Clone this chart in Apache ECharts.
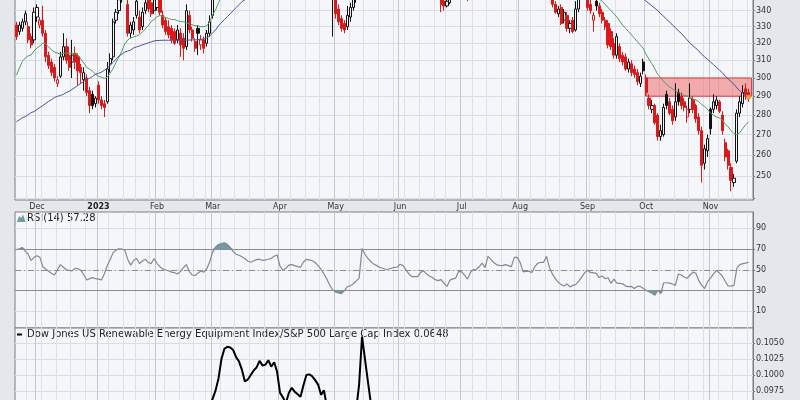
<!DOCTYPE html>
<html><head><meta charset="utf-8">
<script src="https://cdn.jsdelivr.net/npm/echarts@6/dist/echarts.min.js"></script>
<style>html,body{margin:0;padding:0;background:#e4e7eb}#c{width:800px;height:400px}</style>
</head><body><div id="c"></div>
<script>
// ---------- data ----------
const firstDay = '2022-11-21', lastDay = '2023-11-21';
const holidays = ['2022-11-24','2022-12-26','2023-01-02','2023-01-16','2023-02-20','2023-04-07','2023-05-29','2023-06-19','2023-07-04','2023-09-04'];
const monthNames = ['2023','Feb','Mar','Apr','May','Jun','Jul','Aug','Sep','Oct','Nov','Dec'];
// [open, close, low, high]
const candles = [
[331,324,322,333],[327,331,325,333],[329,333,327,335],[333,338,331,340],[330,322,320,333],[324,319,317,326],[322,339,320,342],
[336,342,333,344],[331,334,329,336],[334,326,324,343],[326,312,309,328],[313,307,305,315],[309,303,301,311],[306,300,298,308],[297,299,295,301],[301,312,300,315],[312,318,310,326],[318,310,308,323],[313,306,304,318],[309,313,300,322],[314,309,305,318],[312,304,296,314],[306,303,297,308],[299,303,293,306],[300,292,290,302],[293,285,281,295],[291,285,283,293],[286,289,284,290],
[296,288,286,298],[288,285,283,290],[286,284,279,288],[287,305,286,309],[308,311,303,314],[312,333,310,335],[334,339,332,341],[340,347,338,350],[347,356,345,360],[356,360,352,364],[344,326,324,350],[326,331,323,333],[328,333,325,336],[337,346,335,350],[336,328,326,340],[330,339,328,342],[340,345,338,349],[350,341,339,354],[345,338,336,350],[340,347,338,352],
[342,352,340,356],[352,339,337,355],[337,331,329,340],[334,327,325,336],[330,325,323,334],[329,322,320,331],[327,320,319,329],[322,328,320,331],[326,319,312,329],[323,317,310,326],[318,340,316,344],[337,328,326,340],[328,323,321,330],[321,317,315,323],[329,326,313,331],[319,322,316,325],[322,317,314,324],[320,326,318,328],[326,333,324,337],
[337,350,335,353],[350,356,348,359],[357,364,355,367],[364,371,362,374],[371,378,369,381],[378,383,375,386],[382,380,376,385],[379,375,372,381],[376,372,369,378],[371,374,368,377],[374,370,367,376],[370,366,363,372],[366,363,360,368],[363,362,358,366],[362,366,360,368],[366,369,364,371],[369,370,366,373],[370,368,365,372],[368,369,365,371],[369,371,367,374],[371,373,369,376],[373,377,371,379],[377,380,375,383],
[379,372,369,381],[372,366,363,374],[366,369,364,371],[369,373,367,375],[373,374,370,377],[374,372,369,376],[372,371,368,374],[371,370,367,373],[370,377,369,379],[377,381,375,383],[381,380,377,383],[380,379,376,382],[379,377,374,381],[377,372,369,378],[372,367,364,373],[367,361,358,368],[361,355,352,362],[355,350,348,357],[356,350,324,360],
[348,338,335,350],[341,333,331,344],[335,329,327,337],[332,328,326,334],[330,337,328,343],[336,342,333,345],[342,348,340,351],[348,353,345,356],[353,356,350,358],[362,392,360,396],[390,388,384,393],[388,384,381,390],[384,381,378,386],[381,378,375,383],[378,376,373,380],[376,374,371,378],[374,372,369,376],[372,371,368,374],[371,371,368,374],[371,372,369,375],[372,373,370,376],[373,373,370,376],
[374,378,372,380],[378,376,373,380],[376,372,369,378],[372,368,365,373],[368,365,362,369],[365,365,362,368],[365,365,362,368],[365,368,363,370],[368,370,366,372],[370,367,364,371],[367,365,362,368],[365,363,360,366],[363,360,357,364],[360,355,353,361],[352,344,339,354],[346,343,340,349],[343,346,342,350],[345,350,344,353],[350,352,348,355],[352,353,350,356],[354,362,353,364],
[362,360,357,364],[360,356,353,361],[355,350,346,356],[351,357,350,359],[357,360,355,362],[360,361,358,363],[361,364,359,366],[364,368,362,370],[368,363,361,369],[364,376,363,378],[376,373,370,378],[373,370,367,374],[370,368,365,371],[368,368,365,370],[368,368,365,371],[368,369,366,371],[369,368,365,370],[368,366,363,369],[367,378,366,380],[378,378,375,381],
[378,373,370,379],[373,362,359,374],[362,363,359,365],[363,362,359,365],[362,361,358,364],[361,366,359,368],[366,369,364,371],[369,370,366,372],[370,370,367,373],[370,378,369,380],[376,358,356,377],[352,344,342,355],[344,339,338,346],[338,341,336,343],[342,332,331,344],[334,339,332,341],[337,329,327,339],[329,332,326,334],[334,327,326,336],[328,341,327,346],[341,348,339,352],[349,355,347,358],[356,352,349,360],
[352,342,340,355],[344,340,338,347],[334,337,327,339],[346,343,340,349],[343,338,336,345],[339,334,332,341],[334,330,328,336],[332,319,317,334],[327,318,316,329],[320,313,311,323],[313,324,311,326],[318,311,309,320],[313,309,307,315],[312,305,304,314],[305,309,303,311],[308,303,301,310],[305,302,300,307],[303,298,296,305],[297,301,295,303],[309,304,302,311],
[300,292,290,302],[289,285,283,291],[283,285,281,288],[285,276,275,286],[280,269,267,281],[269,272,267,275],[270,284,269,286],[291,285,283,293],[287,281,280,289],[283,277,275,285],[279,287,277,297],[292,287,285,294],[290,285,283,292],[287,284,282,289],[279,283,276,285],[283,289,281,297],[288,283,281,290],[285,278,276,286],[279,272,270,281],[272,255,247,274],[256,263,253,265],[262,268,259,270],
[283,273,270,284],[283,287,281,291],[285,288,283,290],[287,282,281,288],[280,272,270,282],[266,259,257,268],[262,255,253,263],[254,248,243,256],[247,249,245,251],[257,281,256,283],[281,287,279,290],[286,292,284,296],[294,291,288,297],[292,289.5,287,294]
];
const sma20 = [301.5,305.6,309.3,311.4,312.6,313.1,315.4,317.2,318.4,320.2,319.6,317.8,316.0,314.8,314.2,313.6,314.2,314.2,314.2,314.2,313.6,313.1,310.7,308.4,306.0,304.9,303.7,302.1,300.9,300.4,299.8,300.4,302.6,305.4,308.8,311.8,315.4,319.6,322.0,323.2,323.8,324.4,325.0,326.8,328.7,330.6,333.1,334.4,336.2,336.9,336.2,335.6,335.0,334.4,334.4,333.7,333.1,333.1,332.5,331.8,331.2,330.6,330.6,330.0,330.0,330.6,333.1,337.5,340.6,345.1,
349,353,357,360,362,364,366,367,368,369,369.5,370,370.5,371,371.5,372,372,372,372.5,373,
373,373,372.5,372,371.5,371,371,370.5,370.5,371,371.5,372,372,371.5,371,370,369,367.5,366,
364,362,360,358.5,357,356,355.5,355.5,356,357.5,358.5,359.5,360.5,361.5,362.5,363.5,364.5,365.5,366.5,367.5,368.5,369.5,
370,370.5,371,371,370.5,370,369.5,369,368.5,368,367.5,367,366,365,364,363,362,361,360.5,360,360,
359.5,359,358.5,358,358,358.5,359,359.5,360,361,362,363,364,365,365.5,366,366.5,367,367.5,368,
368,368,367.5,367,366.5,366,366,366,366,366,365.5,364.5,363.5,362.5,361.5,360.5,359.5,358.5,357.5,356.5,355.5,354.5,353.5,352.5,351.5,
350,348.5,347.5,346,344,342,340,338,336,333.5,331,329,327,325,323,321,319,317,313.5,310.5,308,305,302,300,298,296.5,295,294,293,292,291,290.5,290,289,288.5,288,287,285.5,284.5,283,281,280,279,278.5,277.5,275.5,274,272,270.5,270,271,273,275,276.5];
const sma50 = [276.6,277.6,278.6,279.2,280.2,281.3,281.8,282.9,284.0,285.0,286.1,287.2,288.2,289.3,289.9,290.4,291.0,292.0,292.6,293.7,294.8,295.9,297.0,298.1,299.3,299.8,300.9,302.1,302.6,303.2,304.3,305.4,307.2,308.8,310.7,312.5,313.6,314.8,315.4,316.0,317.2,317.8,318.4,319.0,319.6,320.2,320.8,321.4,
321.6,321.7,321.8,321.8,321.8,321.8,321.8,321.8,321.8,321.8,321.8,321.9,322.0,322.0,322.1,322.3,
322.6,323.2,324.4,326.2,328.1,330.6,332.5,334.4,336.2,338.1,340.0,341.9,343.8,345.7,347.0,
348.5,350,351.5,353,354.5,356,357,358,359,360,361,
362,363,364,364.5,365,365.5,366,366.5,367,367.5,368,368.5,369,369,369,369,368.5,368,367.5,
367,366.5,366,365.5,365,364.5,364,363.5,363.5,363.5,363.5,364,364,364.5,365,365,365.5,366,366.5,367,367,367.5,
367.5,368,368,368,368,368,367.5,367.5,367,367,366.5,366.5,366,366,365.5,365,364.5,364,364,363.5,363.5,
363.5,363,363,363,363,363,363,363.5,363.5,364,364,364,364.5,364.5,364.5,365,365,365,365,365.5,
365.5,365.5,365,365,364.5,364.5,364,364,364,364,363.5,363,362.5,362,361.5,361,360.5,360,359.5,359,358.5,358,357.5,
357,356.5,356,355.5,355,354.5,354,353.5,353,352.5,352,351.5,351,350.5,350,349.5,349,348.5,348,
347.5,346,344.5,343,341.5,340,338,336.5,334.5,333,331,329.5,327.5,326,324,322,320,318.5,317,315.5,313.5,312,310.5,309,307.5,306,304.5,303,301,299.5,298,296.5,294.5,293,291.5,290,288.6];
const rsi14 = [69.5,70.3,71.5,68,65,59,62,63.5,62,53,
50.5,48.5,46.5,45,50,55,52.5,50,49.5,49,
51.5,51,49.5,45,40.2,41.5,42.5,41.5,41,40.2,
46,54,60,66.5,69,70.2,70,69,60,54.5,
59,61,56,58.5,60.2,57,56,60.8,56,53,
50.7,49.8,48.8,47.8,47.2,46,48.5,52,55,48.5,
45,44.5,47,48.8,47.8,51,58,67,72,74.3,
75.3,76,74.5,71.5,67.5,65,64,62.5,60.7,58.5,
57.3,58.7,59.8,60.2,59,59.5,60.2,61,63,64.3,
53.5,49.5,51.5,54.5,55,54,53,52.5,57.5,60,
59.5,58.7,57,54,50.5,46,41,35,30.5,28.5,
27.6,27,30,33.7,34.5,36.5,39,42,70.2,65,
61,58,55.5,54,52.5,51.5,50.5,50.5,51.5,52.3,
52.5,55.3,54,50,46,43.5,43.5,43.5,47.5,49,
46,44,42.5,40.5,39.5,40.5,37,34,40,41.2,
42,48.5,48,45,41,47.5,50.2,50.5,53,56.5,
52,63,60,57,54.8,54.2,54,55,54,53,
62,62,57,48,48.7,48.5,47.4,53,56.3,57.2,
57.2,63,52,46,41.5,38,35.7,34.4,36.5,33.5,
35,36,39,43,47,49.5,47.5,47,46.5,42.5,
44,41.5,42.3,37,41,37.2,37,36.5,34.3,33.8,
34,32,34,34,32.3,30,28.8,27.5,25.5,30.3,
27,37.5,37.5,37.2,36.3,35,46,45,43,41.8,
45,47.7,46.7,39.5,35,32,38.5,42,46,49.5,
47,44,39,34.5,34.3,35,51.5,55,56,56.5,
57.28];
const ratio = [0.0905,0.0910,0.0915,0.0918,0.0905,0.0898,0.0920,0.0925,0.0918,0.0910,0.0895,0.0888,0.0880,0.0872,0.0876,0.0890,0.0898,0.0889,0.0882,0.0886,0.0880,0.0874,0.0872,0.0875,0.0868,0.0860,0.0862,0.0866,
0.0858,0.0856,0.0852,0.0868,0.0872,0.0890,0.0895,0.0900,0.0906,0.0910,0.0885,0.0890,0.0893,0.0902,0.0892,0.0900,0.0905,0.0896,0.0890,0.0898,
0.0902,0.0890,0.0885,0.0882,0.0880,0.0878,0.0876,0.0884,0.0878,0.0875,0.0900,0.0892,0.0890,0.0888,0.0896,0.0900,0.0898,0.0915,
0.0950,0.0963,0.0976,0.0995,0.1025,0.1041,0.1044,0.1043,0.1039,0.1028,0.1021,0.1008,0.0990,0.0993,0.1000,0.1007,0.1012,0.1022,0.1015,0.1016,0.1023,0.1013,0.1020,0.1005,0.0972,0.0965,0.0956,0.0972,0.0980,0.0974,0.0970,0.0966,0.0984,0.1000,0.1001,0.0998,0.0992,0.0985,0.0969,0.0976,0.0950,0.0945,
0.0940,0.0935,0.0930,0.0926,0.0929,0.0935,0.0938,0.0942,0.0946,
0.0985,0.1060,0.1025,0.0990,0.0956,
0.0940,0.0932,0.0925,0.0920,0.0915,0.0912,0.0910,0.0905,0.0900,
0.0905,0.0898,0.0890,0.0885,0.0880,0.0878,0.0875,0.0872,0.0870,0.0865,0.0860,0.0855,0.0850,0.0845,0.0830,0.0825,0.0828,0.0832,0.0835,0.0836,0.0845,
0.0842,0.0838,0.0832,0.0838,0.0842,0.0842,0.0845,0.0850,0.0845,0.0858,0.0852,0.0846,0.0842,0.0840,0.0838,0.0836,0.0834,0.0830,0.0842,0.0840,
0.0832,0.0818,0.0818,0.0815,0.0812,0.0818,0.0822,0.0822,0.0821,0.0830,0.0808,0.0792,0.0786,0.0790,0.0778,0.0785,0.0775,0.0779,0.0772,0.0788,0.0795,0.0802,0.0798,
0.0786,0.0780,0.0776,0.0788,0.0782,0.0776,0.0770,0.0752,0.0752,0.0745,0.0760,0.0745,0.0742,0.0735,0.0742,0.0735,0.0732,0.0726,0.0730,0.0738,
0.0712,0.0700,0.0702,0.0690,0.0680,0.0685,0.0702,0.0698,0.0690,0.0682,0.0692,0.0688,0.0682,0.0680,0.0685,0.0690,0.0683,0.0675,0.0665,0.0640,0.0650,0.0655,
0.0672,0.0672,0.0672,0.0665,0.0652,0.0638,0.0630,0.0622,0.0625,0.0640,0.0642,0.0650,0.0648,0.0648];
const priceTicks = [240,250,260,270,280,290,300,310,320,330,340,350];
const priceLabels = [250,260,270,280,290,300,310,320,330,340];
const rsiTicks = [10,30,50,70,90];
const ratioTicks = [0.0975,0.1000,0.1025,0.1050];
const zone = {from:'2023-10-02', low:290, high:300};
const trend = {from:['2023-05-10',0.1062], to:['2023-11-20',0.0702]};
const rsiTitle = 'RSI(14) 57.28';
const ratioTitle = 'Dow Jones US Renewable Energy Equipment Index/S&P 500 Large Cap Index 0.0648';
const lastClose = 289.5;

// ---------- categories ----------
const dates = [];
(function(){
  const d = new Date(firstDay+'T00:00:00Z'), e = new Date(lastDay+'T00:00:00Z');
  while (d <= e) {
    const wd = d.getUTCDay(), s = d.toISOString().slice(0,10);
    if (wd !== 0 && wd !== 6 && holidays.indexOf(s) < 0) dates.push(s);
    d.setUTCDate(d.getUTCDate()+1);
  }
})();
const monthStart = dates.map((s,i)=> i>0 && s.slice(5,7)!==dates[i-1].slice(5,7));
const weekStart = dates.map((s,i)=> i>0 && new Date(s+'T00:00:00Z').getUTCDay() < new Date(dates[i-1]+'T00:00:00Z').getUTCDay());

// ---------- style ----------
const F = 'DejaVu Sans';
const PLOT_BG = '#f4f6f9';
const RED = '#d91a1a', BLK = '#111111';
const L = Math.log;

const candleItems = candles.map((c,i)=>{
  const o=c[0], cl=c[1], lo=c[2], hi=c[3];
  const prev = i>0 ? candles[i-1][1] : o;
  const col = cl >= prev ? BLK : RED;
  const fill = cl > o ? PLOT_BG : col;
  return {value:[L(o),L(cl),L(lo),L(hi)], itemStyle:{color:fill,color0:fill,borderColor:col,borderColor0:col,borderWidth:1}};
});

const G = [
  {left:15, width:738, top:-10, height:210},
  {left:15, width:738, top:212, height:116},
  {left:15, width:738, top:328, height:82}
];
const grids = G.map(g=>Object.assign({show:true, containLabel:false, outerBoundsMode:'none', backgroundColor:PLOT_BG, borderColor:'#7c7c7c', borderWidth:1}, g));

function xPair(gi, labels){
  return [
    {type:'category', gridIndex:gi, data:dates, axisLine:{show:false}, axisTick:{show:false}, axisLabel:{show:false},
     splitLine:{show:true, interval:(i)=>weekStart[i] && !monthStart[i], lineStyle:{color:'#dde1e7', width:1}}},
    {type:'category', gridIndex:gi, data:dates, position:'bottom', axisLine:{show:false}, axisTick:{show:false},
     axisLabel: labels ? {show:true, interval:(i)=>monthStart[i], margin:3, fontFamily:F, fontSize:8, color:'#333',
       formatter:(v)=>{ const m = +v.slice(5,7); return m===1 ? '{b|'+v.slice(0,4)+'}' : monthNames[m-1]; },
       rich:{b:{fontFamily:F, fontSize:8, fontWeight:'bold', color:'#222'}}} : {show:false},
     splitLine:{show:true, interval:(i)=>monthStart[i], lineStyle:{color:'#c3c8cf', width:1}}}
  ];
}
const xAxes = [].concat(xPair(0,true), xPair(1,false), xPair(2,false));

const yLabelBase = {fontFamily:F, fontSize:8, color:'#333', margin:3};
const yAxes = [
  {type:'value', gridIndex:0, position:'right', min:L(239.1), max:L(353.3),
   axisLine:{show:true, lineStyle:{color:'#7c7c7c'}},
   axisTick:{show:true, length:2, customValues:priceTicks.map(L), lineStyle:{color:'#7c7c7c'}},
   axisLabel:Object.assign({customValues:priceLabels.map(L), formatter:(v)=>String(Math.round(Math.exp(v)))}, yLabelBase),
   splitLine:{show:true, lineStyle:{color:'#d9dde3'}}},
  {type:'value', gridIndex:1, position:'right', min:-6.1, max:105.7,
   axisLine:{show:true, lineStyle:{color:'#7c7c7c'}},
   axisTick:{show:true, length:2, customValues:rsiTicks, lineStyle:{color:'#7c7c7c'}},
   axisLabel:Object.assign({customValues:rsiTicks, formatter:(v)=>String(Math.round(v))}, yLabelBase),
   splitLine:{show:true, lineStyle:{color:'#d9dde3'}}},
  {type:'value', gridIndex:2, position:'right', min:0.094531, max:0.107344,
   axisLine:{show:true, lineStyle:{color:'#7c7c7c'}},
   axisTick:{show:true, length:2, customValues:ratioTicks, lineStyle:{color:'#7c7c7c'}},
   axisLabel:Object.assign({customValues:ratioTicks, formatter:(v)=>v.toFixed(4)}, yLabelBase),
   splitLine:{show:true, lineStyle:{color:'#d9dde3'}}}
];

const hidden = {showSymbol:false, symbol:'none', silent:true, lineStyle:{opacity:0}};
const series = [
  {type:'candlestick', name:'price', xAxisIndex:0, yAxisIndex:0, barWidth:2.6, clip:true, data:candleItems,
   markArea:{silent:true, itemStyle:{color:'rgba(238,80,80,0.45)', borderColor:'#e23b3b', borderWidth:1},
     data:[[{xAxis:zone.from, yAxis:L(zone.high)},{xAxis:dates[dates.length-1], yAxis:L(zone.low)}]]}},
  {type:'line', xAxisIndex:0, yAxisIndex:0, data:sma20.map(L), showSymbol:false, symbol:'none', clip:true, z:3,
   lineStyle:{color:'#58995a', width:1}},
  {type:'line', xAxisIndex:0, yAxisIndex:0, data:sma50.map(L), showSymbol:false, symbol:'none', clip:true, z:3,
   lineStyle:{color:'#4c4f9c', width:1}},
  {type:'scatter', xAxisIndex:0, yAxisIndex:0, symbolSize:4, z:5,
   itemStyle:{color:'#f2c418', borderColor:'#e8891a', borderWidth:1},
   data:[[dates[candles.length-1], L(lastClose)]]},
  Object.assign({type:'line', xAxisIndex:2, yAxisIndex:1, stack:'ob', data:rsi14.map(()=>70)}, hidden),
  Object.assign({type:'line', xAxisIndex:2, yAxisIndex:1, stack:'ob', data:rsi14.map(v=>Math.max(v-70,0)),
    areaStyle:{color:'#6f9ba1', opacity:1}}, hidden),
  Object.assign({type:'line', xAxisIndex:2, yAxisIndex:1, stack:'os', data:rsi14.map(v=>Math.min(v,30))}, hidden),
  Object.assign({type:'line', xAxisIndex:2, yAxisIndex:1, stack:'os', data:rsi14.map(v=>30-Math.min(v,30)),
    areaStyle:{color:'#6f9ba1', opacity:1}}, hidden),
  {type:'line', xAxisIndex:2, yAxisIndex:1, data:rsi14, showSymbol:false, symbol:'none', z:4,
   lineStyle:{color:'#7f8998', width:1.2},
   markLine:{silent:true, symbol:['none','none'], label:{show:false},
     data:[{yAxis:70, lineStyle:{color:'#8d8d8d', width:1, type:'solid'}},
           {yAxis:30, lineStyle:{color:'#8d8d8d', width:1, type:'solid'}},
           {yAxis:50, lineStyle:{color:'#8d8d8d', width:1, type:[6,3,1,3]}}]}},
  {type:'line', xAxisIndex:4, yAxisIndex:2, data:ratio, showSymbol:false, symbol:'none', clip:true,
   lineStyle:{color:'#000', width:2},
   markLine:{silent:true, symbol:['none','none'], label:{show:false},
     lineStyle:{color:'#dd2020', width:2, type:'solid'},
     data:[[{coord:trend.from},{coord:trend.to}]]}}
];

const graphic = [
  {type:'polygon', shape:{points:[[17,222],[19,216],[21,218],[23,214.5],[25.5,222]]}, style:{fill:'#6f9ba1'}},
  {type:'text', style:{x:27, y:218.5, text:rsiTitle, font:'10px "DejaVu Sans"', fill:'#222', verticalAlign:'middle'}},
  {type:'rect', shape:{x:17, y:333.5, width:5, height:2}, style:{fill:'#000'}},
  {type:'text', style:{x:27, y:334.5, text:ratioTitle, font:'10px "DejaVu Sans"', fill:'#222', verticalAlign:'middle'}}
];

const chart = echarts.init(document.getElementById('c'), null, {width:800, height:400});
chart.setOption({animation:false, backgroundColor:'#e4e7eb', grid:grids, xAxis:xAxes, yAxis:yAxes, series:series, graphic:graphic});
</script>
</body></html>
